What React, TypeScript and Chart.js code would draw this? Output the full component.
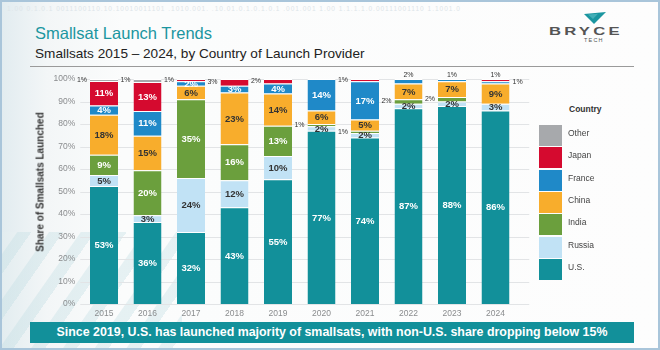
import React, { useEffect, useRef } from "react";
import { Chart, registerables } from "chart.js";

Chart.register(...registerables);

const FONT = "'Liberation Sans', Arial, Helvetica, sans-serif";

// ---------- data ----------
const years = ["2015", "2016", "2017", "2018", "2019", "2020", "2021", "2022", "2023", "2024"];
const usShare = [52.5, 36.4, 32, 43, 55.4, 77, 74, 87, 88, 86];
const russiaShare = [4.8, 3.0, 24, 12, 10.4, 2, 2, 2, 2, 3];
const indiaShare = [9.0, 20.0, 35, 16, 13.4, 1, 1, 2, 2, 0];
const chinaShare = [17.8, 15.4, 6, 23, 14.4, 6, 5, 7, 7, 9];
const franceShare = [4.1, 11.0, 2, 3, 4.4, 14, 17, 2, 1, 1];
const japanShare = [10.9, 12.9, 1, 3, 2, 0, 1, 0, 0, 1];
const otherShare = [0.9, 1.3, 0, 0, 0, 0, 0, 0, 0, 0];
const yTickValues = [0, 10, 20, 30, 40, 50, 60, 70, 80, 90, 100];

const seriesNames = ["U.S.", "Russia", "India", "China", "France", "Japan", "Other"];
const seriesValues = [usShare, russiaShare, indiaShare, chinaShare, franceShare, japanShare, otherShare];

// ---------- styles ----------
const seriesColors = ["#12909a", "#c1e2f5", "#6b9f3d", "#f8ad2c", "#1f89c8", "#d50a2f", "#a7a9ac"];
const labelDark = [false, true, false, true, false, false, false];
const legendOrder = ["Other", "Japan", "France", "China", "India", "Russia", "U.S."];

// placement of small labels drawn outside their segment
const outsideLabels: Record<string, "left" | "right" | "above"> = {
  "Other-2015": "left",
  "Other-2016": "left",
  "Japan-2017": "left",
  "Japan-2018": "left",
  "Japan-2019": "left",
  "India-2020": "left",
  "India-2021": "left",
  "Japan-2021": "left",
  "India-2022": "left",
  "India-2023": "left",
  "France-2022": "above",
  "France-2023": "above",
  "Japan-2024": "above",
  "France-2024": "right",
};

const gridPlugin = {
  id: "customGrid",
  beforeDatasetsDraw(chart: any) {
    const { ctx, chartArea, scales } = chart;
    ctx.save();
    ctx.strokeStyle = "#e2e4e6";
    ctx.lineWidth = 1;
    for (const v of yTickValues) {
      const py = Math.round(scales.y.getPixelForValue(v)) + 0.5;
      ctx.beginPath();
      ctx.moveTo(chartArea.left - 2, py);
      ctx.lineTo(chartArea.right + 12, py);
      ctx.stroke();
    }
    ctx.restore();
  },
};

const labelPlugin = {
  id: "segLabels",
  afterDatasetsDraw(chart: any) {
    const { ctx } = chart;
    ctx.save();
    chart.data.datasets.forEach((ds: any, i: number) => {
      const meta = chart.getDatasetMeta(i);
      meta.data.forEach((bar: any, j: number) => {
        const v = ds.data[j];
        const r = Math.round(v);
        if (!r) return;
        const text = r + "%";
        const key = `${seriesNames[i]}-${years[j]}`;
        const place = outsideLabels[key];
        const top = Math.min(bar.y, bar.base);
        const bottom = Math.max(bar.y, bar.base);
        const cy = (top + bottom) / 2;
        const half = bar.width / 2;
        if (!place) {
          ctx.font = `bold 9.5px ${FONT}`;
          ctx.fillStyle = labelDark[i] ? "#333333" : "#ffffff";
          ctx.textAlign = "center";
          ctx.textBaseline = "middle";
          ctx.fillText(text, bar.x, cy + 0.5);
        } else {
          ctx.font = `7px ${FONT}`;
          ctx.fillStyle = "#333333";
          ctx.textBaseline = "middle";
          if (place === "left") {
            ctx.textAlign = "right";
            ctx.fillText(text, bar.x - half - 3, cy);
          } else if (place === "right") {
            ctx.textAlign = "left";
            ctx.fillText(text, bar.x + half + 3, cy);
          } else {
            ctx.textAlign = "center";
            ctx.textBaseline = "bottom";
            ctx.fillText(text, bar.x, top);
          }
        }
      });
    });
    ctx.restore();
  },
};

function SmallsatChart() {
  const ref = useRef<HTMLCanvasElement | null>(null);
  useEffect(() => {
    if (!ref.current) return;
    const chart = new Chart(ref.current, {
      type: "bar",
      data: {
        labels: years,
        datasets: seriesNames.map((name, i) => ({
          label: name,
          data: seriesValues[i],
          backgroundColor: seriesColors[i],
          borderColor: "#ffffff",
          borderWidth: { top: 1, bottom: 0, left: 0, right: 0 },
          borderSkipped: false,
          barPercentage: 0.644,
          categoryPercentage: 1,
        })),
      },
      options: {
        animation: false,
        responsive: false,
        maintainAspectRatio: false,
        devicePixelRatio: 1,
        layout: { padding: { left: 0, top: 77, right: 24.75, bottom: 0 } },
        plugins: { legend: { display: false }, tooltip: { enabled: false } },
        scales: {
          x: {
            stacked: true,
            grid: { display: false, drawTicks: false },
            border: { display: false },
            ticks: { color: "#8a8c8e", font: { family: FONT, size: 8.5 }, padding: 5, maxRotation: 0 },
            afterFit: (s: any) => {
              s.height = 28;
            },
          },
          y: {
            stacked: true,
            min: 0,
            max: 100,
            grid: { display: false, drawTicks: false },
            border: { display: false },
            ticks: {
              stepSize: 10,
              color: "#8a8c8e",
              font: { family: FONT, size: 8.5 },
              padding: 7,
              callback: (v: any) => v + "%",
            },
            afterFit: (s: any) => {
              s.width = 80.25;
            },
          },
        },
      },
      plugins: [gridPlugin, labelPlugin],
    });
    return () => chart.destroy();
  }, []);
  return (
    <canvas
      ref={ref}
      width={540}
      height={330}
      style={{ position: "absolute", left: 0, top: 0, width: 540, height: 330 }}
    />
  );
}

export default function App() {
  const legendTop = 123;
  const legendStep = 22.3;
  return (
    <div
      style={{
        position: "fixed",
        left: 0,
        top: 0,
        width: 660,
        height: 350,
        overflow: "hidden",
        boxSizing: "border-box",
        border: "2px solid #a9c5da",
        fontFamily: FONT,
        background:
          "radial-gradient(circle at 610px 340px, rgba(196,224,228,0.55) 0px, rgba(214,232,236,0.35) 110px, rgba(255,255,255,0) 150px)," +
          "repeating-linear-gradient(125deg, rgba(200,225,230,0) 0px, rgba(200,225,230,0) 14px, rgba(190,220,226,0.35) 15px, rgba(190,220,226,0.35) 26px)," +
          "linear-gradient(90deg, #e3edf0 0px, #f3f6f7 45px, #fbfcfc 120px, #fdfdfd 100%)",
      }}
    >
      <div
        style={{
          position: "absolute",
          left: 180,
          top: 0,
          width: 480,
          height: 350,
          background: "linear-gradient(90deg, #fbfcfc 0px, #fdfdfd 100%)",
        }}
      />
      <div
        style={{
          position: "absolute",
          left: 0,
          top: 0,
          width: 180,
          height: 230,
          background: "linear-gradient(90deg, rgba(226,236,240,1) 0px, rgba(243,246,247,1) 45px, rgba(251,252,252,1) 120px, #fbfcfc 180px)",
        }}
      />
      <div
        style={{
          position: "absolute",
          left: 5,
          top: 3,
          fontSize: 6.5,
          color: "#dde5e9",
          letterSpacing: 1,
          whiteSpace: "nowrap",
        }}
      >
        1.00 0.1.0.1 0011100110.10.10010011101 .1010.001. .10.01.0.1.0.1.0.1 .001.001 1.00 1.1.1.1.0.00111001110 1.1001.0
      </div>

      {/* title */}
      <div
        style={{
          position: "absolute",
          left: 33,
          top: 20.5,
          fontSize: 16.5,
          lineHeight: "20px",
          color: "#1b96a0",
          whiteSpace: "nowrap",
        }}
      >
        Smallsat Launch Trends
      </div>
      <div
        style={{
          position: "absolute",
          left: 33,
          top: 43.4,
          fontSize: 13.6,
          lineHeight: "18px",
          color: "#222",
          whiteSpace: "nowrap",
        }}
      >
        Smallsats 2015 – 2024, by Country of Launch Provider
      </div>
      <div style={{ position: "absolute", left: 28, top: 64, width: 604, height: 1, background: "#9a9a9a" }} />

      {/* logo */}
      <svg style={{ position: "absolute", left: 0, top: 0 }} width={660} height={60}>
        <polygon points="582,12 604,10 592,22" fill="#1b96a0" />
        <polygon points="586,12.5 596,11.7 591,17" fill="#5fc0c6" opacity={0.6} />
      </svg>
      <div
        style={{
          position: "absolute",
          left: 547,
          top: 22,
          fontSize: 11.5,
          lineHeight: "14px",
          letterSpacing: 2.2,
          fontWeight: "bold",
          color: "#555",
          transform: "scaleX(1.45)",
          transformOrigin: "left top",
          whiteSpace: "nowrap",
        }}
      >
        BRYCE
      </div>
      <div
        style={{
          position: "absolute",
          left: 582,
          top: 35,
          fontSize: 5.5,
          lineHeight: "7px",
          letterSpacing: 1.2,
          color: "#555",
          whiteSpace: "nowrap",
        }}
      >
        TECH
      </div>

      <SmallsatChart />

      {/* y axis title */}
      <div
        style={{
          position: "absolute",
          left: 38,
          top: 180,
          transform: "translate(-50%, -50%) rotate(-90deg)",
          fontSize: 10,
          fontWeight: "bold",
          color: "#333",
          whiteSpace: "nowrap",
        }}
      >
        Share of Smallsats Launched
      </div>

      {/* legend */}
      <div
        style={{
          position: "absolute",
          left: 567,
          top: 101,
          fontSize: 8.5,
          lineHeight: "12px",
          fontWeight: "bold",
          color: "#333",
        }}
      >
        Country
      </div>
      {legendOrder.map((name, k) => {
        const idx = seriesNames.indexOf(name);
        const top = legendTop + k * legendStep;
        return (
          <React.Fragment key={name}>
            <div
              style={{
                position: "absolute",
                left: 537,
                top,
                width: 23,
                height: 21,
                background: seriesColors[idx],
              }}
            />
            <div
              style={{
                position: "absolute",
                left: 566,
                top: top + 2,
                fontSize: 8.5,
                lineHeight: "12px",
                color: "#444",
                whiteSpace: "nowrap",
              }}
            >
              {name}
            </div>
          </React.Fragment>
        );
      })}

      {/* banner */}
      <div
        style={{
          position: "absolute",
          left: 28,
          top: 320,
          width: 604,
          height: 21,
          background: "#12909a",
          color: "#fff",
          fontWeight: "bold",
          fontSize: 12.4,
          lineHeight: "21px",
          textAlign: "center",
          whiteSpace: "nowrap",
        }}
      >
        Since 2019, U.S. has launched majority of smallsats, with non-U.S. share dropping below 15%
      </div>
    </div>
  );
}
